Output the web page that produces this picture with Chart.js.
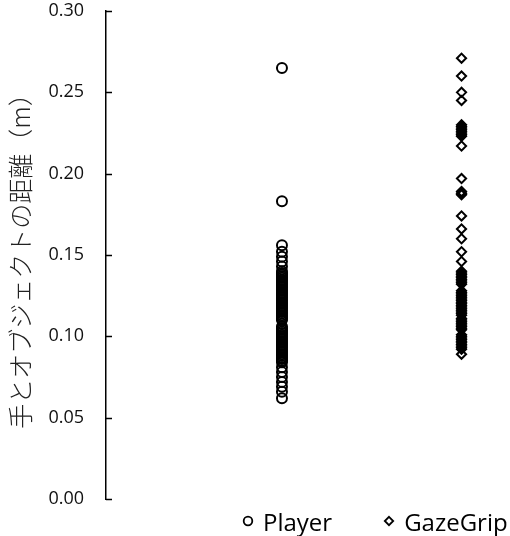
<!DOCTYPE html>
<html>
<head>
<meta charset="utf-8">
<script src="https://cdn.jsdelivr.net/npm/chart.js@4.4.1/dist/chart.umd.min.js"></script>
<style>
  body { margin: 0; background: #fff; }
  #wrap { position: relative; width: 510px; height: 536px; }
  #legend {
    position: absolute; left: 242px; top: 507px; height: 28px;
    display: flex; align-items: center;
    font-family: "Open Sans", sans-serif; font-size: 24px; color: #000;
  }
  #legend .item { display: flex; align-items: center; }
  #legend .item + .item { margin-left: 51px; }
  #legend svg { margin-right: 9px; }
</style>
</head>
<body>
<div id="wrap">
  <canvas id="chart" width="510" height="536"></canvas>
  <div id="legend"></div>
</div>
<script>
const categories = ["Player", "GazeGrip"];
const categoryX = [1, 2];
const yTicks = [0, 0.05, 0.1, 0.15, 0.2, 0.25, 0.3];
const yTitle = "手とオブジェクトの距離（m）";

const playerValues = [
  0.265, 0.183,
  0.156, 0.152, 0.149, 0.146, 0.143,
  0.140, 0.139, 0.138, 0.137, 0.136, 0.135, 0.134, 0.133, 0.132, 0.131,
  0.130, 0.129, 0.128, 0.127, 0.126, 0.125, 0.124, 0.123, 0.122, 0.121,
  0.120, 0.119, 0.118, 0.117, 0.116, 0.115, 0.114, 0.113, 0.112, 0.111, 0.110,
  0.106, 0.105, 0.104, 0.103, 0.102, 0.101, 0.100, 0.099, 0.098, 0.097,
  0.096, 0.095, 0.094, 0.093, 0.092, 0.091, 0.090, 0.089, 0.088, 0.087,
  0.086, 0.085, 0.084,
  0.081, 0.078, 0.075, 0.072, 0.069, 0.066, 0.062,
];

const gazeGripValues = [
  0.271, 0.260, 0.250, 0.245,
  0.230, 0.229, 0.228, 0.227, 0.226, 0.225, 0.224, 0.223, 0.217,
  0.197, 0.189, 0.188, 0.187,
  0.174, 0.166, 0.160, 0.152, 0.146,
  0.140, 0.139, 0.138, 0.137, 0.136, 0.135, 0.134, 0.133, 0.132,
  0.128, 0.127, 0.126, 0.125, 0.124, 0.123, 0.122, 0.121, 0.120, 0.119,
  0.118, 0.117, 0.116, 0.115, 0.114, 0.113,
  0.111, 0.110, 0.109, 0.108, 0.107, 0.106, 0.105, 0.104,
  0.101, 0.100, 0.099, 0.098, 0.097, 0.096, 0.095, 0.094, 0.093, 0.092,
  0.089,
];

const seriesValues = [playerValues, gazeGripValues];
const pointStyles = ["circle", "rectRot"];
const pointRadius = [5, 4.6];

// inside tick marks on the y axis (Excel style)
const insideTicks = {
  id: "insideTicks",
  afterDraw(chart) {
    const y = chart.scales.y;
    const ctx = chart.ctx;
    const left = chart.chartArea.left;
    ctx.save();
    ctx.strokeStyle = "#000";
    ctx.lineWidth = 1.5;
    y.ticks.forEach((t) => {
      const py = Math.round(y.getPixelForValue(t.value)) + 0.5;
      ctx.beginPath();
      ctx.moveTo(left, py);
      ctx.lineTo(left + 6, py);
      ctx.stroke();
    });
    ctx.restore();
  },
};

const ctx = document.getElementById("chart").getContext("2d");
new Chart(ctx, {
  type: "scatter",
  data: {
    datasets: categories.map((name, i) => ({
      label: name,
      data: seriesValues[i].map((v) => ({ x: categoryX[i], y: v })),
      pointStyle: pointStyles[i],
      pointRadius: pointRadius[i],
      pointBorderWidth: 2,
      borderColor: "#000",
      backgroundColor: "rgba(0,0,0,0)",
    })),
  },
  options: {
    responsive: false,
    animation: false,
    layout: { autoPadding: false, padding: { bottom: 37, right: 0, top: 11, left: 0 } },
    plugins: {
      legend: { display: false },
      tooltip: { enabled: false },
    },
    scales: {
      x: {
        type: "linear",
        min: 0.02,
        max: 2.27,
        display: false,
      },
      y: {
        min: 0,
        max: 0.3,
        afterFit: (scale) => {
          scale.width = 106;
          scale.paddingTop = 0;
          scale.paddingBottom = 0;
        },
        afterBuildTicks: (scale) => {
          scale.ticks = yTicks.map((v) => ({ value: v }));
        },
        grid: { display: false, drawTicks: false },
        border: { display: true, color: "#000", width: 1.5 },
        ticks: {
          padding: 22,
          color: "#111",
          font: { family: "Open Sans", size: 18 },
          callback: (v) => v.toFixed(2),
        },
        title: {
          display: true,
          text: yTitle,
          color: "#222",
          font: { family: "Noto Sans CJK JP", size: 25, weight: 300 },
          padding: { top: 5, bottom: 0 },
        },
      },
    },
  },
  plugins: [insideTicks],
});

// html legend
const markerSvg = [
  '<svg width="12" height="12"><circle cx="6" cy="6" r="4.3" fill="none" stroke="#000" stroke-width="1.8"/></svg>',
  '<svg width="12" height="12"><path d="M6 1.8 L10.2 6 L6 10.2 L1.8 6 Z" fill="none" stroke="#000" stroke-width="1.8"/></svg>',
];
document.getElementById("legend").innerHTML = categories
  .map((name, i) => `<div class="item">${markerSvg[i]}<span>${name}</span></div>`)
  .join("");
</script>
</body>
</html>
